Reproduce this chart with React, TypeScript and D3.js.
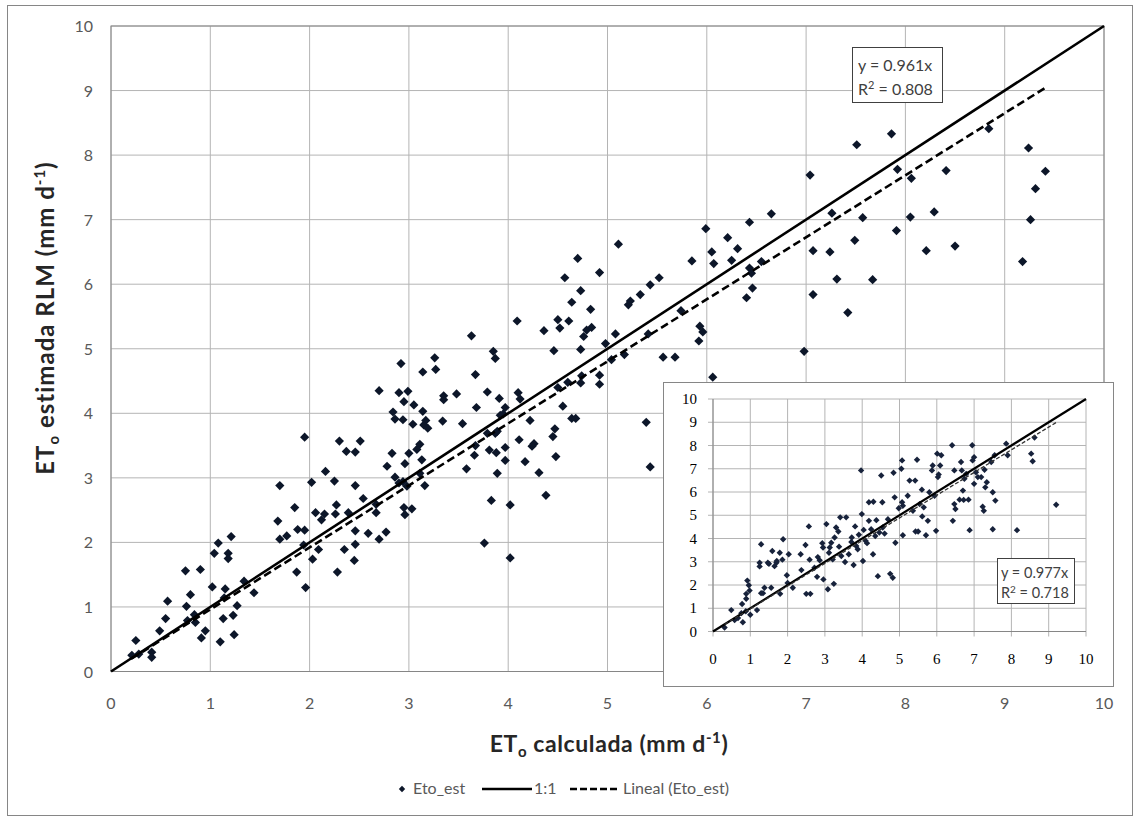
import * as d3 from 'd3';

// --- data ---
const TICKS = [0, 1, 2, 3, 4, 5, 6, 7, 8, 9, 10];

// [ETo calculada, ETo estimada] main panel
const mainPoints: [number, number][] = [
  [0.25, 0.48], [0.21, 0.25], [0.28, 0.27], [0.41, 0.3], [0.41, 0.22], [0.49, 0.63], [0.55, 0.82],
  [0.57, 1.09], [0.75, 1.56], [0.76, 1.01], [0.8, 1.19], [0.77, 0.79], [0.84, 0.88], [0.85, 0.76],
  [0.9, 1.58], [0.91, 0.52], [0.95, 0.63], [1.02, 1.31], [1.04, 1.83], [1.08, 1.99], [1.1, 0.46],
  [1.13, 0.82], [1.14, 1.14], [1.15, 1.28], [1.18, 1.83], [1.18, 1.75], [1.21, 2.09], [1.23, 0.87],
  [1.24, 0.57], [1.27, 1.02], [1.34, 1.4], [1.44, 1.22], [1.68, 2.33], [1.7, 2.05], [1.77, 2.1],
  [1.85, 2.54], [1.87, 1.54], [1.88, 2.2], [1.95, 2.19], [1.96, 1.3], [1.94, 1.96], [2.03, 1.74],
  [2.06, 2.46], [2.09, 1.89], [2.12, 2.35], [2.15, 2.44], [2.26, 2.44], [2.27, 2.58], [2.28, 1.54],
  [2.35, 1.89], [2.39, 2.46], [2.46, 2.18], [2.46, 1.97], [2.45, 1.72], [2.59, 2.14], [2.67, 2.59],
  [2.67, 2.46], [2.7, 2.05], [2.77, 2.16], [2.95, 2.54], [2.96, 2.43], [3.03, 2.52],
  [3.63, 5.2], [3.26, 4.86], [3.27, 4.68], [2.92, 4.77], [3.14, 4.64], [3.67, 4.6], [2.7, 4.35],
  [2.9, 4.32], [2.99, 4.34], [2.95, 4.18], [3.05, 4.13], [3.35, 4.27], [3.35, 4.21], [3.48, 4.3],
  [3.68, 4.09], [2.84, 4.02], [2.86, 3.91], [2.94, 3.9], [3.04, 3.83], [3.14, 4.03], [3.17, 3.89],
  [3.15, 3.82], [3.19, 3.77], [3.34, 3.88], [3.54, 3.84], [1.95, 3.63], [2.3, 3.57], [2.51, 3.57],
  [2.37, 3.41], [2.46, 3.4], [2.83, 3.38], [3.0, 3.38], [3.11, 3.52], [3.08, 3.44], [3.13, 3.28],
  [2.96, 3.22], [2.78, 3.18], [3.67, 3.5], [3.66, 3.35], [3.58, 3.14], [2.16, 3.1], [2.86, 3.01],
  [2.9, 2.92], [2.94, 2.94], [2.98, 2.87], [3.11, 3.07], [3.16, 2.88], [1.7, 2.88], [2.02, 2.93],
  [2.25, 2.95], [2.46, 2.88], [2.54, 2.68],
  [5.11, 6.62], [4.7, 6.4], [4.57, 6.1], [4.92, 6.18], [5.85, 6.36], [6.05, 6.5], [6.07, 6.32],
  [4.73, 5.9], [4.64, 5.72], [4.83, 5.61], [4.09, 5.43], [4.36, 5.28], [4.5, 5.45], [4.52, 5.32],
  [4.61, 5.43], [4.76, 5.19], [4.79, 5.29], [4.84, 5.33], [4.73, 4.99], [4.46, 4.97], [4.98, 5.08],
  [5.08, 5.23], [5.21, 5.68], [5.23, 5.74], [5.33, 5.84], [5.43, 5.99], [5.52, 6.1], [5.74, 5.59],
  [5.93, 5.35], [5.96, 5.26], [5.92, 5.12], [5.04, 4.83], [5.17, 4.91], [5.41, 5.23], [5.56, 4.87],
  [5.68, 4.87], [6.06, 4.56], [4.92, 4.59], [4.92, 4.45], [4.74, 4.58], [4.73, 4.47], [4.6, 4.48],
  [4.5, 4.4], [4.55, 4.11], [4.64, 3.92], [4.68, 3.92], [4.47, 3.76], [4.45, 3.64], [4.48, 3.33],
  [4.1, 4.32], [4.12, 4.22], [3.85, 4.96], [3.87, 4.85], [3.79, 4.33], [3.91, 4.23], [3.97, 4.09],
  [3.95, 3.99], [3.92, 3.97], [4.22, 3.89], [4.11, 3.59], [4.26, 3.53], [4.24, 3.49], [4.17, 3.25],
  [3.97, 3.47], [3.97, 3.27], [3.87, 3.69], [3.89, 3.72], [3.79, 3.69], [3.81, 3.43], [3.88, 3.39],
  [5.39, 3.86], [5.43, 3.17], [3.89, 3.07], [4.31, 3.08], [4.38, 2.73], [3.83, 2.65], [4.02, 2.58],
  [3.76, 1.99], [4.02, 1.76],
  [7.04, 7.69], [7.26, 7.1], [7.57, 7.03], [6.65, 7.09], [6.43, 6.96], [5.99, 6.86], [6.21, 6.72],
  [6.31, 6.55], [6.25, 6.37], [6.55, 6.35], [6.43, 6.25], [6.45, 6.17], [7.07, 6.52], [7.24, 6.5],
  [7.49, 6.68], [7.31, 6.08], [7.67, 6.07], [6.46, 5.94], [6.4, 5.79], [7.07, 5.84], [7.42, 5.56],
  [6.98, 4.96],
  [7.86, 8.33], [7.51, 8.16], [8.84, 8.41], [9.24, 8.11], [9.41, 7.75], [9.31, 7.48], [9.26, 7.0],
  [9.18, 6.35], [7.92, 7.78], [8.06, 7.64], [8.41, 7.76], [7.91, 6.83], [8.05, 7.04], [8.29, 7.12],
  [8.21, 6.52], [8.5, 6.59],
];

// inset panel
const insetPoints: [number, number][] = [
  [0.31, 0.17], [0.49, 0.92], [0.58, 0.49], [0.67, 0.58], [0.76, 0.79], [0.78, 1.18], [0.8, 0.4],
  [0.88, 0.87], [0.89, 1.41], [0.89, 1.62], [0.92, 2.19], [0.96, 1.99], [0.98, 1.76], [1.0, 0.72],
  [1.18, 0.92], [1.25, 2.96], [1.25, 2.8], [1.29, 3.75], [1.29, 1.65], [1.34, 1.65], [1.38, 1.88],
  [1.47, 2.96], [1.5, 2.91], [1.56, 1.88], [1.59, 3.46], [1.65, 2.81], [1.7, 2.96], [1.79, 3.39],
  [1.8, 1.62], [1.71, 3.03], [1.86, 3.09], [1.88, 3.97], [1.98, 2.42], [2.0, 2.09], [2.03, 3.32],
  [2.14, 1.88], [2.35, 3.32], [2.37, 2.64], [2.48, 3.72], [2.5, 1.62], [2.61, 1.62], [2.57, 4.52],
  [2.59, 3.09], [2.72, 2.74], [2.81, 3.2], [2.86, 3.06], [2.79, 2.35], [2.93, 3.8], [2.95, 3.61],
  [2.96, 2.24], [3.04, 4.62], [3.08, 1.82], [3.11, 3.39], [3.13, 3.61], [3.17, 3.82], [3.21, 3.1],
  [3.24, 2.05], [3.26, 4.04], [3.3, 4.47], [3.36, 4.3], [3.38, 3.65], [3.41, 4.91], [3.44, 3.25],
  [3.54, 2.99], [3.57, 4.91], [3.64, 3.32], [3.71, 3.85], [3.72, 4.04], [3.77, 2.86], [3.81, 4.52],
  [3.84, 3.68], [3.88, 3.54], [3.91, 4.16], [3.97, 6.93], [3.99, 5.05], [4.02, 3.03], [4.04, 4.37],
  [4.09, 3.9], [4.13, 3.8], [4.18, 5.56], [4.3, 5.58], [4.18, 4.76], [4.24, 4.4], [4.29, 3.32],
  [4.35, 4.11], [4.38, 4.79], [4.42, 2.38], [4.46, 4.26], [4.51, 6.71], [4.54, 5.56], [4.55, 4.47],
  [4.6, 4.21], [4.69, 4.83], [4.75, 2.48], [4.82, 2.31], [4.84, 6.83], [4.87, 5.77], [4.89, 3.82],
  [4.98, 5.3], [5.05, 7.0], [5.07, 7.36], [5.07, 5.56], [5.09, 5.41], [5.09, 4.14], [5.22, 5.84],
  [5.27, 6.49], [5.36, 5.19], [5.42, 6.49], [5.43, 4.3], [5.5, 4.3], [5.47, 7.39], [5.54, 5.48],
  [5.6, 6.1], [5.61, 4.95], [5.65, 5.34], [5.71, 4.14], [5.76, 4.76], [5.8, 5.99], [5.87, 6.93],
  [5.89, 7.14], [5.94, 5.84], [5.98, 4.33], [6.01, 7.65], [6.03, 6.64], [6.05, 6.75], [6.09, 7.14],
  [6.12, 7.58], [6.41, 8.01], [6.43, 4.76], [6.47, 6.93], [6.47, 5.48], [6.5, 5.27], [6.61, 5.67],
  [6.65, 7.29], [6.67, 6.93], [6.7, 6.06], [6.72, 5.66], [6.74, 6.57], [6.79, 6.78], [6.85, 5.67],
  [6.88, 4.36], [6.95, 8.01], [6.96, 7.36], [7.0, 7.5], [7.0, 6.35], [7.05, 6.85], [7.1, 6.64],
  [7.19, 6.64], [7.23, 5.37], [7.26, 5.19], [7.28, 6.96], [7.3, 6.2], [7.34, 6.42], [7.46, 7.29],
  [7.5, 5.99], [7.5, 4.4], [7.55, 7.58], [7.57, 5.63], [7.86, 8.08], [7.9, 7.58], [8.15, 4.36],
  [8.53, 7.65], [8.57, 7.32], [8.62, 8.34], [9.2, 5.45],
];

const MAIN_SLOPE = 0.961;
const MAIN_R2 = 0.808;
const INSET_SLOPE = 0.977;
const INSET_R2 = 0.718;
const LEGEND_LABELS = ['Eto_est', '1:1', 'Lineal (Eto_est)'];

// --- layout ---
const W = 1135;
const H = 820;
const PLOT = { left: 111, right: 1104, top: 26, bottom: 671.5 };
const INSET_BOX = { x: 663, y: 382, w: 450, h: 304 };
const INSET = { left: 713, right: 1086, top: 399, bottom: 631.5 };

const SANS = "Lato, 'Open Sans', sans-serif";
const SERIF = "'Liberation Serif', 'DejaVu Serif', serif";
const GRID = '#b4b4b4';
const BORDER = '#868686';
const MARK = '#0c1629';
const LABEL = '#595959';

const diamond = (r: number) => `M0,${-r}L${r},0L0,${r}L${-r},0Z`;

export default function App() {
  const x = d3.scaleLinear().domain([0, 10]).range([PLOT.left, PLOT.right]);
  const y = d3.scaleLinear().domain([0, 10]).range([PLOT.bottom, PLOT.top]);
  const ix = d3.scaleLinear().domain([0, 10]).range([INSET.left, INSET.right]);
  const iy = d3.scaleLinear().domain([0, 10]).range([INSET.bottom, INSET.top]);

  const mainExt = d3.extent(mainPoints, (d) => d[0]) as [number, number];
  const insetExt = d3.extent(insetPoints, (d) => d[0]) as [number, number];

  const line = d3.line<number[]>();
  const oneToOne = line([[x(0), y(0)], [x(10), y(10)]]) || '';
  const mainFit = line(mainExt.map((v) => [x(v), y(v * MAIN_SLOPE)])) || '';
  const iOneToOne = line([[ix(0), iy(0)], [ix(10), iy(10)]]) || '';
  const insetFit = line(insetExt.map((v) => [ix(v), iy(v * INSET_SLOPE)])) || '';

  const legendY = 789;

  return (
    <svg width={W} height={H} style={{ position: 'absolute', left: 0, top: 0, background: '#fff' }}>
      {/* chart frame */}
      <rect x={7.5} y={5.5} width={1125} height={810} fill="#fff" stroke={BORDER} />

      {/* main grid */}
      {TICKS.map((t) => (
        <g key={'g' + t}>
          <line x1={x(t)} x2={x(t)} y1={PLOT.top} y2={PLOT.bottom} stroke={GRID} />
          <line x1={PLOT.left} x2={PLOT.right} y1={y(t)} y2={y(t)} stroke={GRID} />
        </g>
      ))}
      <rect x={PLOT.left} y={PLOT.top} width={PLOT.right - PLOT.left} height={PLOT.bottom - PLOT.top}
        fill="none" stroke={BORDER} />

      {/* main tick labels */}
      {TICKS.map((t) => (
        <g key={'t' + t} fontFamily={SANS} fontSize={16} fill={LABEL}>
          <text x={x(t)} y={y(0) + 37} textAnchor="middle">{t}</text>
          <text x={PLOT.left - 18} y={y(t) + 6} textAnchor="end">{t}</text>
        </g>
      ))}

      {/* main points */}
      {mainPoints.map((d, i) => (
        <path key={'p' + i} d={diamond(4.6)} transform={`translate(${x(d[0])},${y(d[1])})`} fill={MARK} />
      ))}

      {/* main lines */}
      <path d={oneToOne} stroke="#000" strokeWidth={2.6} fill="none" />
      <path d={mainFit} stroke="#000" strokeWidth={2.6} strokeDasharray="8,4" fill="none" />

      {/* main equation */}
      <rect x={852.5} y={47.5} width={90} height={55} fill="#fff" stroke="#404040" />
      <g fontFamily={SANS} fontSize={16} fill="#404040">
        <text x={858} y={71}>y = {MAIN_SLOPE}x</text>
        <text x={858} y={95}>R<tspan dy={-6} fontSize={11}>2</tspan><tspan dy={6}> = {MAIN_R2}</tspan></text>
      </g>

      {/* axis titles */}
      <text x={609} y={752} textAnchor="middle" fontFamily={SANS} fontSize={23} letterSpacing={0.6}
        fontWeight="bold" fill="#262626">
        ET<tspan fontSize={15} dy={5}>o</tspan><tspan dy={-5}> calculada (mm d</tspan>
        <tspan fontSize={15} dy={-9}>-1</tspan><tspan dy={9}>)</tspan>
      </text>
      <text transform="translate(54,318) rotate(-90)" textAnchor="middle" fontFamily={SANS} fontSize={24}
        letterSpacing={1} fontWeight="bold" fill="#262626">
        ET<tspan fontSize={15} dy={5}>o</tspan><tspan dy={-5}> estimada RLM (mm d</tspan>
        <tspan fontSize={15} dy={-9}>-1</tspan><tspan dy={9}>)</tspan>
      </text>

      {/* inset */}
      <rect x={INSET_BOX.x + 0.5} y={INSET_BOX.y + 0.5} width={INSET_BOX.w} height={INSET_BOX.h}
        fill="#fff" stroke={BORDER} />
      {TICKS.map((t) => (
        <g key={'ig' + t}>
          <line x1={ix(t)} x2={ix(t)} y1={INSET.top} y2={INSET.bottom + 5} stroke={GRID} />
          <line x1={INSET.left - 5} x2={INSET.right} y1={iy(t)} y2={iy(t)} stroke={GRID} />
          <text x={ix(t)} y={INSET.bottom + 32} textAnchor="middle" fontFamily={SERIF} fontSize={15}>{t}</text>
          <text x={INSET.left - 16} y={iy(t) + 5} textAnchor="end" fontFamily={SERIF} fontSize={15}>{t}</text>
        </g>
      ))}
      <line x1={INSET.left} x2={INSET.left} y1={INSET.top} y2={INSET.bottom} stroke={BORDER} />
      <line x1={INSET.left} x2={INSET.right} y1={INSET.bottom} y2={INSET.bottom} stroke={BORDER} />
      {insetPoints.map((d, i) => (
        <path key={'ip' + i} d={diamond(3.2)} transform={`translate(${ix(d[0])},${iy(d[1])})`} fill="#17223b" />
      ))}
      <path d={iOneToOne} stroke="#000" strokeWidth={2.2} fill="none" />
      <path d={insetFit} stroke="#333" strokeWidth={1.3} strokeDasharray="4,2" fill="none" />
      <rect x={997.5} y={558.5} width={77} height={45} fill="#fff" stroke="#404040" />
      <g fontFamily={SANS} fontSize={14.5} fill="#404040">
        <text x={1001} y={578}>y = {INSET_SLOPE}x</text>
        <text x={1001} y={598}>R<tspan dy={-5} fontSize={10}>2</tspan><tspan dy={5}> = {INSET_R2}</tspan></text>
      </g>

      {/* legend */}
      <g fontFamily={SANS} fontSize={16} fill={LABEL}>
        <path d={diamond(3.2)} transform={`translate(402,${legendY})`} fill={MARK} />
        <text x={413} y={legendY + 5}>{LEGEND_LABELS[0]}</text>
        <line x1={482} x2={532} y1={legendY} y2={legendY} stroke="#000" strokeWidth={2.6} />
        <text x={534} y={legendY + 5}>{LEGEND_LABELS[1]}</text>
        <line x1={570} x2={620} y1={legendY} y2={legendY} stroke="#000" strokeWidth={2.6} strokeDasharray="7,3" />
        <text x={623} y={legendY + 5}>{LEGEND_LABELS[2]}</text>
      </g>
    </svg>
  );
}
